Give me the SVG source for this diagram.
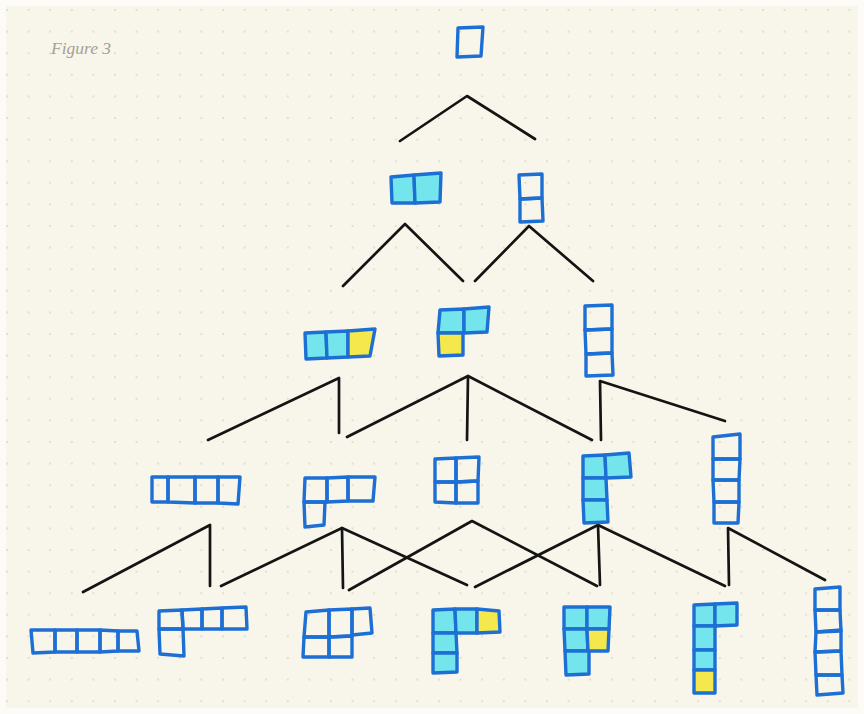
<svg xmlns="http://www.w3.org/2000/svg" width="864" height="714" viewBox="0 0 864 714">
  <style>
    .cell { stroke: #1d6fd4; stroke-width: 3.4; stroke-linejoin: round; stroke-linecap: round; }
    .e { fill: none; }
    .c { fill: #74e5ec; }
    .y { fill: #f4e84c; }
    .link { fill: none; stroke: #141414; stroke-width: 2.7; stroke-linecap: round; stroke-linejoin: round; }
    .caption { font-family: "Liberation Serif", "DejaVu Serif", serif; font-style: italic; font-size: 17.5px; fill: #a5a196; }
  </style>
  <defs>
    <pattern id="dots" patternUnits="userSpaceOnUse" x="-3.8" y="-0.8" width="21.6" height="21.6">
      <circle cx="10.8" cy="10.8" r="0.95" fill="#d9d5c8"/>
    </pattern>
  </defs>

  <!-- paper -->
  <rect x="0" y="0" width="864" height="714" fill="#fcfbf7"/>
  <rect x="6" y="6" width="852" height="702" fill="#f8f5ea"/>
  <rect x="6" y="6" width="852" height="702" fill="url(#dots)"/>

  <text class="caption" x="51" y="54">Figure 3</text>

  <!-- tree connectors -->
  <g id="connectors">
    <polyline class="link" points="400,141 467,96 535,139"/>

    <polyline class="link" points="343,286 405,224 463,281"/>
    <polyline class="link" points="475,281 529,226 593,281"/>

    <polyline class="link" points="208,440 339,378 339,433"/>
    <polyline class="link" points="347,437 468,376 592,440"/>
    <line class="link" x1="468" y1="376" x2="467" y2="440"/>
    <polyline class="link" points="601,440 600,381 725,421"/>

    <polyline class="link" points="83,592 210,525 210,586"/>
    <polyline class="link" points="221,586 342,528 467,585"/>
    <line class="link" x1="342" y1="528" x2="343" y2="588"/>
    <polyline class="link" points="349,590 472,521 597,586"/>
    <polyline class="link" points="475,587 598,525 725,586"/>
    <line class="link" x1="598" y1="525" x2="600" y2="585"/>
    <polyline class="link" points="729,585 728,528 825,580"/>
  </g>

  <!-- level 0 -->
  <g id="n-mono">
    <polygon class="cell e" points="458,28 483,27 481,56 457,57"/>
  </g>

  <!-- level 1 -->
  <g id="n-domino-h">
    <polygon class="cell c" points="391,177 414,175 415,203 392,203"/>
    <polygon class="cell c" points="414,175 441,173 440,202 415,203"/>
  </g>
  <g id="n-domino-v">
    <polygon class="cell e" points="519,175 542,174 542,198 520,199"/>
    <polygon class="cell e" points="520,199 542,198 543,221 520,222"/>
  </g>

  <!-- level 2 -->
  <g id="n-tromino-i">
    <polygon class="cell c" points="305,333 326,332 327,358 306,359"/>
    <polygon class="cell c" points="326,332 348,331 348,357 327,358"/>
    <polygon class="cell y" points="348,331 375,329 370,356 348,357"/>
  </g>
  <g id="n-tromino-l">
    <polygon class="cell c" points="440,310 464,309 464,333 438,333"/>
    <polygon class="cell c" points="464,309 489,307 487,332 464,333"/>
    <polygon class="cell y" points="438,333 463,333 463,355 439,356"/>
  </g>
  <g id="n-tromino-v">
    <polygon class="cell e" points="585,306 612,305 612,329 585,330"/>
    <polygon class="cell e" points="585,330 612,329 612,353 586,354"/>
    <polygon class="cell e" points="586,354 612,353 613,375 586,376"/>
  </g>

  <!-- level 3 -->
  <g id="n-tetromino-i">
    <polygon class="cell e" points="152,477 168,477 168,502 152,502"/>
    <polygon class="cell e" points="168,477 195,477 195,503 168,502"/>
    <polygon class="cell e" points="195,477 218,477 218,503 195,503"/>
    <polygon class="cell e" points="218,477 240,477 238,504 218,503"/>
  </g>
  <g id="n-tetromino-l">
    <polygon class="cell e" points="305,478 327,478 327,502 304,502"/>
    <polygon class="cell e" points="327,478 348,477 348,501 327,502"/>
    <polygon class="cell e" points="348,477 375,477 373,501 348,501"/>
    <polygon class="cell e" points="304,502 325,502 324,525 305,527"/>
  </g>
  <g id="n-tetromino-o">
    <polygon class="cell e" points="435,459 456,458 456,482 435,482"/>
    <polygon class="cell e" points="456,458 479,457 478,481 456,482"/>
    <polygon class="cell e" points="435,482 456,482 456,503 435,502"/>
    <polygon class="cell e" points="456,482 478,481 478,503 456,503"/>
  </g>
  <g id="n-tetromino-j">
    <polygon class="cell c" points="583,456 605,455 606,478 583,478"/>
    <polygon class="cell c" points="605,455 629,453 631,477 606,478"/>
    <polygon class="cell c" points="583,478 606,478 607,500 583,500"/>
    <polygon class="cell c" points="583,500 607,500 608,522 584,523"/>
  </g>
  <g id="n-tetromino-v">
    <polygon class="cell e" points="713,437 740,434 740,459 713,459"/>
    <polygon class="cell e" points="713,459 740,459 739,480 713,480"/>
    <polygon class="cell e" points="713,480 739,480 739,502 714,502"/>
    <polygon class="cell e" points="714,502 739,502 738,523 714,523"/>
  </g>

  <!-- level 4 -->
  <g id="n-pentomino-i">
    <polygon class="cell e" points="31,630 55,630 55,652 33,653"/>
    <polygon class="cell e" points="55,630 77,630 77,652 55,652"/>
    <polygon class="cell e" points="77,630 100,630 100,652 77,652"/>
    <polygon class="cell e" points="100,630 118,631 118,651 100,652"/>
    <polygon class="cell e" points="118,631 137,631 139,651 118,651"/>
  </g>
  <g id="n-pentomino-l">
    <polygon class="cell e" points="159,611 182,610 183,629 159,629"/>
    <polygon class="cell e" points="182,610 202,609 202,629 183,629"/>
    <polygon class="cell e" points="202,609 222,608 222,629 202,629"/>
    <polygon class="cell e" points="222,608 246,607 247,629 222,629"/>
    <polygon class="cell e" points="159,629 183,629 184,656 160,654"/>
  </g>
  <g id="n-pentomino-p">
    <polygon class="cell e" points="306,612 329,610 329,637 304,637"/>
    <polygon class="cell e" points="329,610 352,609 352,636 329,637"/>
    <polygon class="cell e" points="352,609 370,608 372,633 352,635"/>
    <polygon class="cell e" points="304,637 329,637 329,657 303,657"/>
    <polygon class="cell e" points="329,637 352,636 352,657 329,657"/>
  </g>
  <g id="n-pentomino-j">
    <polygon class="cell c" points="433,610 455,609 456,633 433,633"/>
    <polygon class="cell c" points="455,609 477,609 477,633 456,633"/>
    <polygon class="cell y" points="477,609 499,611 500,632 477,633"/>
    <polygon class="cell c" points="433,633 456,633 457,653 433,653"/>
    <polygon class="cell c" points="433,653 457,653 457,672 433,673"/>
  </g>
  <g id="n-pentomino-pv">
    <polygon class="cell c" points="564,607 587,607 587,629 564,629"/>
    <polygon class="cell c" points="587,607 610,607 609,629 587,629"/>
    <polygon class="cell c" points="564,629 587,629 588,651 565,651"/>
    <polygon class="cell y" points="587,629 609,629 608,651 588,651"/>
    <polygon class="cell c" points="565,651 589,651 589,674 566,675"/>
  </g>
  <g id="n-pentomino-lv">
    <polygon class="cell c" points="694,605 715,604 715,626 694,626"/>
    <polygon class="cell c" points="715,604 737,603 737,625 715,626"/>
    <polygon class="cell c" points="694,626 715,626 715,650 694,650"/>
    <polygon class="cell c" points="694,650 715,650 715,670 694,670"/>
    <polygon class="cell y" points="694,670 715,670 715,693 694,693"/>
  </g>
  <g id="n-pentomino-v">
    <polygon class="cell e" points="815,589 840,587 840,610 815,610"/>
    <polygon class="cell e" points="815,610 840,610 841,631 816,632"/>
    <polygon class="cell e" points="816,632 841,630 841,651 815,652"/>
    <polygon class="cell e" points="815,652 841,651 842,675 816,675"/>
    <polygon class="cell e" points="816,675 842,675 843,693 817,695"/>
  </g>
</svg>
